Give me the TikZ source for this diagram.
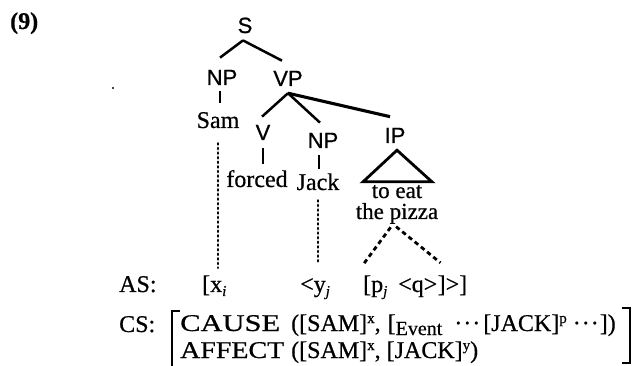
\documentclass[tikz,border=0pt]{standalone}
\usepackage{fontspec}
\setmainfont{Liberation Serif}[FakeBold=0.6]
\setsansfont{Liberation Sans}[FakeBold=0.8]
\usepackage{graphicx}
\newcommand\ssup[1]{\raisebox{8pt}{\fontsize{15}{15}\selectfont #1}}
\newcommand\ssub[1]{\raisebox{-4pt}{\fontsize{20}{20}\selectfont #1}}
\newcommand\isub[1]{\raisebox{-4pt}{\fontsize{15}{15}\selectfont\itshape #1}}
\newcommand\cdt{\textperiodcentered\kern1pt\textperiodcentered\kern1pt\textperiodcentered}
\begin{document}
\begin{tikzpicture}[x=1pt,y=-1pt,
  cat/.style={font=\fontsize{22}{22}\selectfont\sffamily, inner sep=0pt, anchor=base},
  wd/.style={font=\fontsize{24}{24}\selectfont, inner sep=0pt, anchor=base},
  lbl/.style={font=\fontsize{24}{24}\selectfont, inner sep=0pt, anchor=base west},
  asn/.style={lbl, text height=16pt, text depth=5pt},
  br/.style={line width=2.5pt},
  thk/.style={line width=3.1pt},
  brack/.style={line width=2pt},
  dotline/.style={line width=2.8pt, line cap=round, dash pattern=on 1pt off 3.6pt},
  dashline/.style={line width=2.8pt, dash pattern=on 4.5pt off 3.5pt},
]
\useasboundingbox (0,0) rectangle (635,366);
% label
\node[lbl, font=\fontsize{24}{24}\selectfont\bfseries] (num) at (10,29) {(9)};
\fill (113,88) circle (1.2);
% tree
\node[cat] (S) at (245,33) {S};
\node[cat] (NPa) at (222,85) {NP};
\node[cat] (VP) at (288,86) {VP};
\node[wd] (Sam) at (218,128) {Sam};
\node[cat] (V) at (263,140) {V};
\node[wd] (forced) at (257,187) {forced};
\node[cat] (NPb) at (323,148) {NP};
\node[wd] (Jack) at (318,190) {Jack};
\node[cat] (IP) at (395,143) {IP};
\node[wd, font=\fontsize{23}{23}\selectfont] (toeat) at (397,198) {to eat};
\node[wd, font=\fontsize{23}{23}\selectfont] (pizza) at (397,219) {the pizza};
% AS
\node[lbl] (AS) at (119,292) {AS:};
\node[asn] (ASx) at (202,292) {[x\isub{i}};
\node[asn] (ASy) at (300,292) {<y\isub{j}};
\node[asn] (ASp) at (363,292) {[p\isub{j}};
\node[asn] (ASq) at (398,292) {<q>};
\node[asn] (ASr) at (ASq.base east) {]>]};
% CS
\node[lbl] (CS) at (119,332) {CS:};
\node[lbl] (cause) at (180,331) {\makebox[111pt][l]{\resizebox{100pt}{\height}{CAUSE}}([SAM]\ssup{x},\hspace{7pt}[\ssub{Event}\hspace{12pt}\cdt\hspace{3pt}[JACK]\ssup{p}\hspace{6pt}\cdt\hspace{1pt}])};
\node[lbl] (affect) at (180,358) {\makebox[111pt][l]{\resizebox{104pt}{\height}{AFFECT}}([SAM]\ssup{x}, [JACK]\ssup{y})};
\draw[brack] (180,311) -- (172,311) -- (172,380);
\draw[brack] (622,308) -- (630,308) -- (630,363) -- (622,363);
% edges
\draw[br] ([shift={(-2pt,-7pt)}]S.south) -- ([shift={(-2pt,12pt)}]NPa.north);
\draw[br] ([shift={(-2pt,-7pt)}]S.south) -- ([shift={(-6pt,10pt)}]VP.north);
\draw[br] ([shift={(-2pt,-6pt)}]NPa.south) -- ([shift={(2pt,9pt)}]Sam.north);
\draw[br] ([yshift=-7pt]VP.south) -- ([shift={(-1pt,8pt)}]V.north);
\draw[br] ([yshift=-7pt]VP.south) -- ([shift={(-3pt,10pt)}]NPb.north);
\draw[thk] ([yshift=-7pt]VP.south) -- ([shift={(-5pt,11pt)}]IP.north);
\draw[br] ([yshift=-8pt]V.south) -- ([shift={(6pt,6pt)}]forced.north);
\draw[br] ([shift={(-4pt,-7pt)}]NPb.south) -- ([shift={(1pt,4pt)}]Jack.north);
\draw[line width=2.8pt, line join=miter] ([shift={(2pt,-7pt)}]IP.south) -- ([shift={(-34pt,3pt)}]toeat.north) -- ([shift={(35pt,3pt)}]toeat.north) -- cycle;
% correspondences
\draw[dotline, shorten <=15pt, shorten >=8pt] (Sam.south) -- (Sam.south |- ASx.north);
\draw[dotline, shorten <=10pt, shorten >=13pt] (Jack.south) -- (Jack.south |- ASy.north);
\draw[dashline, shorten <=4pt] ([xshift=-4pt]pizza.south) -- ([yshift=11pt]ASp.north west);
\draw[dashline, shorten <=4pt] ([xshift=-4pt]pizza.south) -- ([shift={(3pt,13pt)}]ASq.north east);
\end{tikzpicture}
\end{document}
